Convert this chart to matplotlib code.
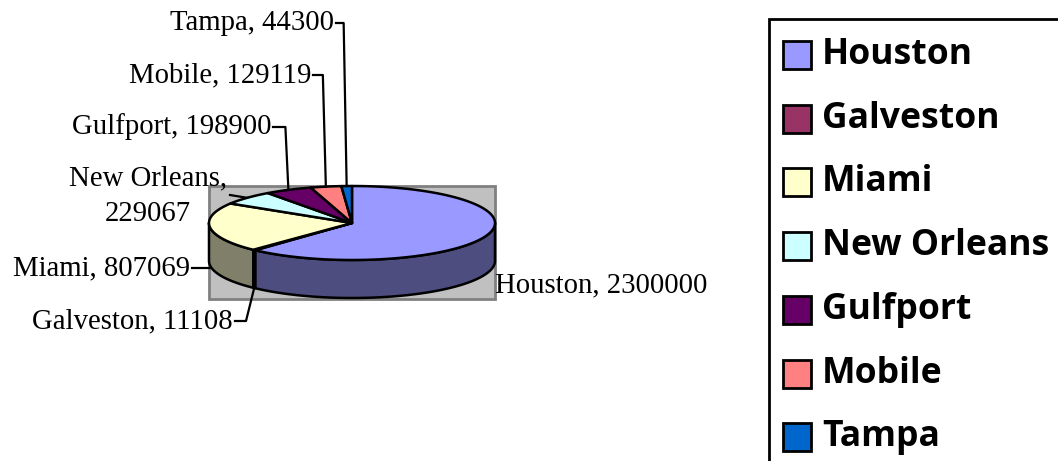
import numpy as np
import matplotlib
matplotlib.use("Agg")
import matplotlib.pyplot as plt
from matplotlib.patches import Polygon, Rectangle

# Port tonnage by city
cities = ["Houston", "Galveston", "Miami", "New Orleans", "Gulfport", "Mobile", "Tampa"]
tonnage = [2300000, 11108, 807069, 229067, 198900, 129119, 44300]
top_colors = ["#9999FF", "#993366", "#FFFFCC", "#CCFFFF", "#660066", "#FF8080", "#0066CC"]
side_colors = ["#4D4D80", "#4D1A33", "#80806A", "#668080", "#330033", "#804040", "#003366"]

W, H = 1058, 461
fig = plt.figure(figsize=(W / 100, H / 100), dpi=100)
ax = fig.add_axes([0, 0, 1, 1])
ax.set_xlim(0, W)
ax.set_ylim(H, 0)
ax.axis("off")

# Pie geometry (pixel space): ellipse centre, radii and thickness
cx, cy, rx, ry, depth = 352.0, 223.0, 143.0, 37.0, 38.0


def pt(theta_deg, dz=0.0):
    t = np.radians(theta_deg)
    return cx + rx * np.sin(t), cy - ry * np.cos(t) + dz


# Plot-area background
ax.add_patch(Rectangle((209, 186), 286, 113, facecolor="#C0C0C0",
                       edgecolor="#808080", lw=2, zorder=1))

vals = np.array(tonnage, dtype=float)
cum = np.concatenate([[0], np.cumsum(vals)]) / vals.sum() * 360.0
starts, ends = cum[:-1], cum[1:]
mids = (starts + ends) / 2

# Side walls (front half of the ellipse only)
for s, e, col in zip(starts, ends, side_colors):
    a, b = max(s, 90.0), min(e, 270.0)
    if a >= b:
        continue
    th = np.linspace(a, b, 80)
    tx, tyy = pt(th)
    bx, byy = pt(th[::-1], depth)
    poly = np.column_stack([np.concatenate([tx, bx]), np.concatenate([tyy, byy])])
    ax.add_patch(Polygon(poly, closed=True, facecolor=col, edgecolor="black",
                         lw=1.8, joinstyle="round", zorder=2))

# Top faces
for s, e, col in zip(starts, ends, top_colors):
    th = np.linspace(s, e, max(3, int((e - s) * 2)))
    x, y = pt(th)
    poly = np.column_stack([np.concatenate([[cx], x]), np.concatenate([[cy], y])])
    ax.add_patch(Polygon(poly, closed=True, facecolor=col, edgecolor="black",
                         lw=1.8, joinstyle="round", zorder=3))

# Data labels
serif = "Liberation Serif"
fs = 20.7
lab = {c: f"{c}, {v}" for c, v in zip(cities, tonnage)}
lw_lead = 1.6

# Houston (no leader)
ax.text(495, 285, lab["Houston"], family=serif, fontsize=fs, ha="left", va="center", zorder=5)

# Labels above the pie with elbow leaders
for name, tx_end, ty in [("Tampa", 334, 23), ("Mobile", 311, 75), ("Gulfport", 271, 127)]:
    i = cities.index(name)
    axp, ayp = pt(mids[i])
    ax.text(tx_end, ty, lab[name], family=serif, fontsize=fs, ha="right", va="center", zorder=5)
    ax.plot([tx_end + 2, axp - 3, axp], [ty, ty, ayp], color="black", lw=lw_lead, zorder=5)

# New Orleans (two lines, centred)
i = cities.index("New Orleans")
axp, ayp = pt(mids[i])
ax.text(148, 196, f"New Orleans,\n{tonnage[i]}", family=serif, fontsize=fs,
        ha="center", va="center", multialignment="center", linespacing=1.5, zorder=5)
ax.plot([230, axp], [195, ayp], color="black", lw=lw_lead, zorder=5)

# Miami
i = cities.index("Miami")
axp, ayp = pt(mids[i], depth)
ax.text(190, 268, lab["Miami"], family=serif, fontsize=fs, ha="right", va="center", zorder=5)
ax.plot([192, axp], [268, 268], color="black", lw=lw_lead, zorder=5)

# Galveston
i = cities.index("Galveston")
axp, ayp = pt(mids[i], depth)
ax.text(233, 321, lab["Galveston"], family=serif, fontsize=fs, ha="right", va="center", zorder=5)
ax.plot([235, 246, axp], [321, 321, ayp], color="black", lw=lw_lead, zorder=5)

# Legend
ax.add_patch(Rectangle((769, 19), 400, 500, facecolor="white", edgecolor="black",
                       lw=2, zorder=4, clip_on=True))
y0, dy = 55, 63.7
for k, (c, col) in enumerate(zip(cities, top_colors)):
    yk = y0 + k * dy
    ax.add_patch(Rectangle((783, yk - 14), 28, 28, facecolor=col, edgecolor="black",
                           lw=2, zorder=5))
    ax.text(822, yk, c, family="Open Sans", weight="bold", fontsize=25.6,
            ha="left", va="center", zorder=5)

fig.savefig("out.png", dpi=100)
